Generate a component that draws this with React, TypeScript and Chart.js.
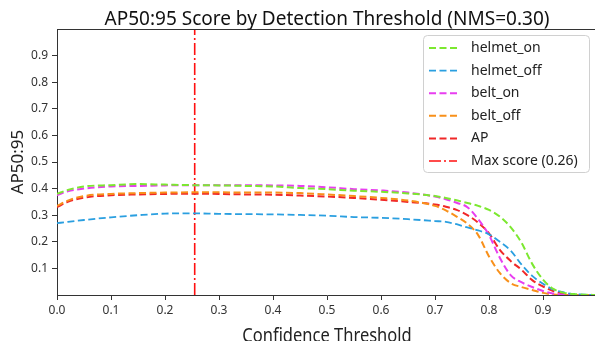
import React, { useEffect, useRef } from "react";
import { Chart, registerables } from "chart.js";

Chart.register(...registerables);

const thresholds = [0, 0.02, 0.05, 0.1, 0.15, 0.2, 0.25, 0.3, 0.35, 0.4, 0.45, 0.5, 0.55, 0.6, 0.65, 0.7, 0.72, 0.74, 0.76, 0.78, 0.8, 0.82, 0.84, 0.86, 0.88, 0.9, 0.92, 0.94, 0.96, 0.98, 1.0];
const helmetOn = [0.38, 0.395, 0.408, 0.413, 0.417, 0.415, 0.413, 0.412, 0.41, 0.408, 0.402, 0.398, 0.392, 0.388, 0.382, 0.372, 0.365, 0.356, 0.346, 0.335, 0.32, 0.295, 0.255, 0.197, 0.117, 0.058, 0.022, 0.008, 0.003, 0.001, 0];
const helmetOff = [0.27, 0.275, 0.282, 0.292, 0.3, 0.306, 0.307, 0.305, 0.304, 0.303, 0.301, 0.298, 0.293, 0.29, 0.285, 0.278, 0.275, 0.266, 0.254, 0.243, 0.228, 0.2, 0.167, 0.115, 0.072, 0.042, 0.02, 0.009, 0.003, 0.001, 0];
const beltOn = [0.375, 0.39, 0.4, 0.408, 0.41, 0.412, 0.413, 0.413, 0.413, 0.412, 0.41, 0.405, 0.398, 0.393, 0.385, 0.37, 0.36, 0.347, 0.33, 0.285, 0.225, 0.14, 0.075, 0.048, 0.03, 0.015, 0.005, 0.001, 0, 0, 0];
const beltOff = [0.335, 0.355, 0.372, 0.38, 0.383, 0.385, 0.386, 0.386, 0.385, 0.385, 0.383, 0.378, 0.372, 0.365, 0.355, 0.335, 0.318, 0.295, 0.268, 0.225, 0.145, 0.083, 0.045, 0.03, 0.019, 0.008, 0.002, 0, 0, 0, 0];
const apScore = [0.33, 0.35, 0.366, 0.375, 0.378, 0.38, 0.381, 0.38, 0.378, 0.377, 0.374, 0.37, 0.365, 0.358, 0.35, 0.34, 0.332, 0.32, 0.3, 0.272, 0.232, 0.17, 0.128, 0.095, 0.056, 0.032, 0.014, 0.005, 0.001, 0, 0];
const maxThreshold = 0.255;
const maxLabel = "Max score (0.26)";
const xTickValues = [0, 0.1, 0.2, 0.3, 0.4, 0.5, 0.6, 0.7, 0.8, 0.9];
const yTickValues = [0.1, 0.2, 0.3, 0.4, 0.5, 0.6, 0.7, 0.8, 0.9];

const titleText = "AP50:95 Score by Detection Threshold (NMS=0.30)";
const xTitle = "Confidence Threshold";
const yTitle = "AP50:95";

const FONT = "'Noto Sans', 'DejaVu Sans', sans-serif";

const CW = 620;
const CH = 350;

function series(label: string, values: number[], color: string, dash: number[], width: number) {
  return {
    label,
    data: thresholds.map((t, i) => ({ x: t, y: values[i] })),
    borderColor: color,
    backgroundColor: color,
    borderDash: dash,
    borderWidth: width,
    pointRadius: 0,
    fill: false,
    cubicInterpolationMode: "monotone" as const,
  };
}

const decorPlugin = {
  id: "decor",
  afterDraw(chart: any) {
    const ctx = chart.ctx as CanvasRenderingContext2D;
    const area = chart.chartArea;
    ctx.save();
    // top spine
    ctx.strokeStyle = "#333";
    ctx.lineWidth = 1;
    ctx.beginPath();
    ctx.moveTo(area.left, area.top + 0.5);
    ctx.lineTo(area.right, area.top + 0.5);
    ctx.stroke();

    const cx = (area.left + area.right) / 2;
    ctx.fillStyle = "#111";
    ctx.textAlign = "center";
    ctx.textBaseline = "alphabetic";
    ctx.font = `19px ${FONT}`;
    ctx.fillText(titleText, cx, 25);

    ctx.save();
    ctx.font = `16.5px ${FONT}`;
    ctx.fillStyle = "#222";
    ctx.translate(cx, 342);
    ctx.scale(1, 1.25);
    ctx.fillText(xTitle, 0, 0);
    ctx.restore();

    ctx.save();
    ctx.fillStyle = "#222";
    ctx.font = `17px ${FONT}`;
    ctx.translate(23, (area.top + area.bottom) / 2);
    ctx.rotate(-Math.PI / 2);
    ctx.fillText(yTitle, 0, 0);
    ctx.restore();

    // legend
    const bx = 423, by = 35, bw = 166, bh = 137;
    ctx.fillStyle = "rgba(255,255,255,0.85)";
    ctx.strokeStyle = "#d0d0d0";
    ctx.lineWidth = 1;
    ctx.beginPath();
    (ctx as any).roundRect(bx + 0.5, by + 0.5, bw, bh, 4);
    ctx.fill();
    ctx.stroke();

    ctx.font = `14px ${FONT}`;
    ctx.textAlign = "left";
    ctx.textBaseline = "middle";
    chart.data.datasets.forEach((ds: any, i: number) => {
      const y = 48 + i * 22.6;
      ctx.strokeStyle = ds.borderColor;
      ctx.lineWidth = ds.borderWidth;
      ctx.setLineDash(ds.borderDash);
      ctx.beginPath();
      ctx.moveTo(429, y);
      ctx.lineTo(457, y);
      ctx.stroke();
      ctx.setLineDash([]);
      ctx.fillStyle = "#222";
      ctx.fillText(ds.label, 471, y);
    });
    ctx.restore();
  },
};

export default function App() {
  const ref = useRef<HTMLCanvasElement>(null);
  useEffect(() => {
    if (!ref.current) return;
    const maxLine = {
      label: maxLabel,
      data: [
        { x: maxThreshold, y: 0 },
        { x: maxThreshold, y: 1 },
      ],
      borderColor: "#ff1010",
      backgroundColor: "#ff1010",
      borderDash: [12, 3, 2, 3],
      borderWidth: 1.6,
      pointRadius: 0,
      fill: false,
    };
    const chart = new Chart(ref.current, {
      type: "line",
      data: {
        datasets: [
          series("helmet_on", helmetOn, "#7ce830", [7, 3.5], 2),
          series("helmet_off", helmetOff, "#2a9fe0", [7, 3.5], 1.8),
          series("belt_on", beltOn, "#e83ef0", [7, 3.5], 2),
          series("belt_off", beltOff, "#f8901a", [7, 3.5], 2),
          series("AP", apScore, "#f02828", [7, 3.5], 2),
          maxLine as any,
        ],
      },
      options: {
        responsive: false,
        animation: false,
        layout: { padding: { top: 29, right: CW - 597, left: 0, bottom: 0 } },
        plugins: { legend: { display: false }, title: { display: false }, tooltip: { enabled: false } },
        scales: {
          x: {
            type: "linear",
            min: 0,
            max: 1,
            afterBuildTicks(scale: any) {
              scale.ticks = xTickValues.map((v) => ({ value: v }));
            },
            afterFit(scale: any) {
              scale.height = CH - 295;
            },
            ticks: {
              color: "#333",
              font: { family: FONT, size: 12 },
              padding: 3,
              maxRotation: 0,
              autoSkip: false,
              callback: (v: any) => Number(v).toFixed(1),
            },
            grid: { drawOnChartArea: false, drawTicks: true, tickLength: 5, color: "#333" },
            border: { display: true, color: "#333", width: 1 },
          },
          y: {
            type: "linear",
            min: 0,
            max: 1,
            afterBuildTicks(scale: any) {
              scale.ticks = yTickValues.map((v) => ({ value: v }));
            },
            afterFit(scale: any) {
              scale.width = 57;
            },
            ticks: {
              color: "#333",
              font: { family: FONT, size: 12 },
              padding: 4,
              autoSkip: false,
              callback: (v: any) => Number(v).toFixed(1),
            },
            grid: { drawOnChartArea: false, drawTicks: true, tickLength: 5, color: "#333" },
            border: { display: true, color: "#333", width: 1 },
          },
        },
      },
      plugins: [decorPlugin],
    });
    return () => chart.destroy();
  }, []);
  return (
    <div style={{ position: "fixed", left: 0, top: 0, width: 595, height: 341, overflow: "hidden", background: "#fff" }}>
      <canvas ref={ref} width={CW} height={CH} style={{ display: "block" }} />
    </div>
  );
}
